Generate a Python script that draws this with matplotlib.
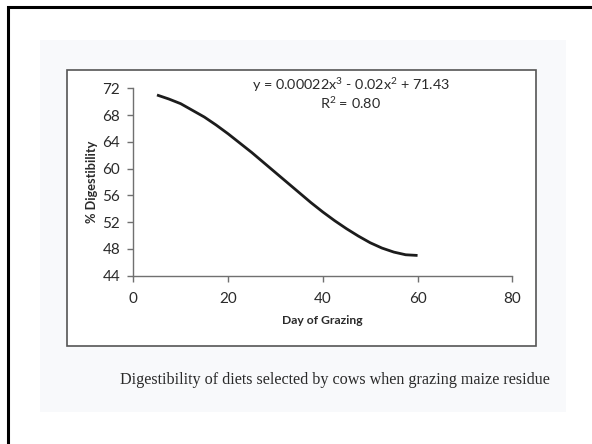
import matplotlib.pyplot as plt
from matplotlib.patches import Rectangle

plt.rcParams["mathtext.fontset"] = "custom"
plt.rcParams["mathtext.rm"] = "Lato"
plt.rcParams["mathtext.it"] = "Lato"
plt.rcParams["mathtext.default"] = "regular"

days = [5, 7.5, 10, 12.5, 15, 17.5, 20, 22.5, 25, 27.5, 30, 32.5,
        35, 37.5, 40, 42.5, 45, 47.5, 50, 52.5, 55, 57.5, 60]
digest = [71.0, 70.4, 69.7, 68.7, 67.7, 66.5, 65.2, 63.8, 62.4, 60.9, 59.4, 57.9,
          56.4, 54.9, 53.5, 52.2, 51.0, 49.9, 48.9, 48.1, 47.5, 47.1, 47.0]

x_ticks = [0, 20, 40, 60, 80]
y_ticks = [44, 48, 52, 56, 60, 64, 68, 72]

equation = "y = 0.00022x$^3$ - 0.02x$^2$ + 71.43"
r_squared = "R$^2$ = 0.80"
caption = "Digestibility of diets selected by cows when grazing maize residue"

W, H = 592, 444
fig = plt.figure(figsize=(W / 100, H / 100), dpi=100)
fig.patch.set_facecolor("white")

def px(x0, y0, x1, y1):
    # pixel box (top-left origin) -> figure fraction rect
    return (x0 / W, 1 - y1 / H, (x1 - x0) / W, (y1 - y0) / H)

# faint scanned page + outer frame + chart frame
l, b, w, h = px(40, 40, 566, 412)
fig.patches.append(Rectangle((l, b), w, h, transform=fig.transFigure,
                             facecolor="#f8f9fb", edgecolor="none", zorder=-3))
l, b, w, h = px(8, 7, 600, 460)
fig.patches.append(Rectangle((l, b), w, h, transform=fig.transFigure,
                             facecolor="none", edgecolor="black", lw=2.2, zorder=-1))
l, b, w, h = px(66.5, 70, 535.5, 346)
fig.patches.append(Rectangle((l, b), w, h, transform=fig.transFigure,
                             facecolor="white", edgecolor="#555555", lw=1.2, zorder=-2))

ax = fig.add_axes(px(133.3, 88.3, 512.3, 275.5))
ax.set_facecolor("none")
ax.plot(days, digest, color="#1c1c1c", lw=2.0, solid_capstyle="butt")

ax.set_xlim(0, 80)
ax.set_ylim(44, 72)
ax.set_xticks(x_ticks)
ax.set_yticks(y_ticks)
for s in ["top", "right"]:
    ax.spines[s].set_visible(False)
for s in ["left", "bottom"]:
    ax.spines[s].set_color("#707070")
    ax.spines[s].set_linewidth(1.0)
ax.tick_params(direction="out", length=4, width=1.0, color="#707070",
               labelsize=11, labelcolor="#2a2a2a")
ax.tick_params(axis="x", pad=8)
ax.tick_params(axis="y", pad=5.5)
for lab in ax.get_xticklabels() + ax.get_yticklabels():
    lab.set_family("Lato")

ax.set_xlabel("Day of Grazing", fontsize=8.7, fontweight="bold",
              family="Lato", color="#2a2a2a", labelpad=6)
ax.set_ylabel("% Digestibility", fontsize=9.2, fontweight="bold",
              family="Lato", color="#2a2a2a", labelpad=3)

ax.text(0.574, 1.018, equation, transform=ax.transAxes, ha="center", va="center",
        fontsize=10.4, family="Lato", color="#2a2a2a", clip_on=False)
ax.text(0.574, 0.921, r_squared, transform=ax.transAxes, ha="center", va="center",
        fontsize=10.4, family="Lato", color="#2a2a2a")

fig.text(335 / W, 1 - 380 / H, caption, ha="center", va="center",
         fontsize=11.6, family="Liberation Serif", color="#2a2a2a")

fig.savefig("out.png", dpi=100)
